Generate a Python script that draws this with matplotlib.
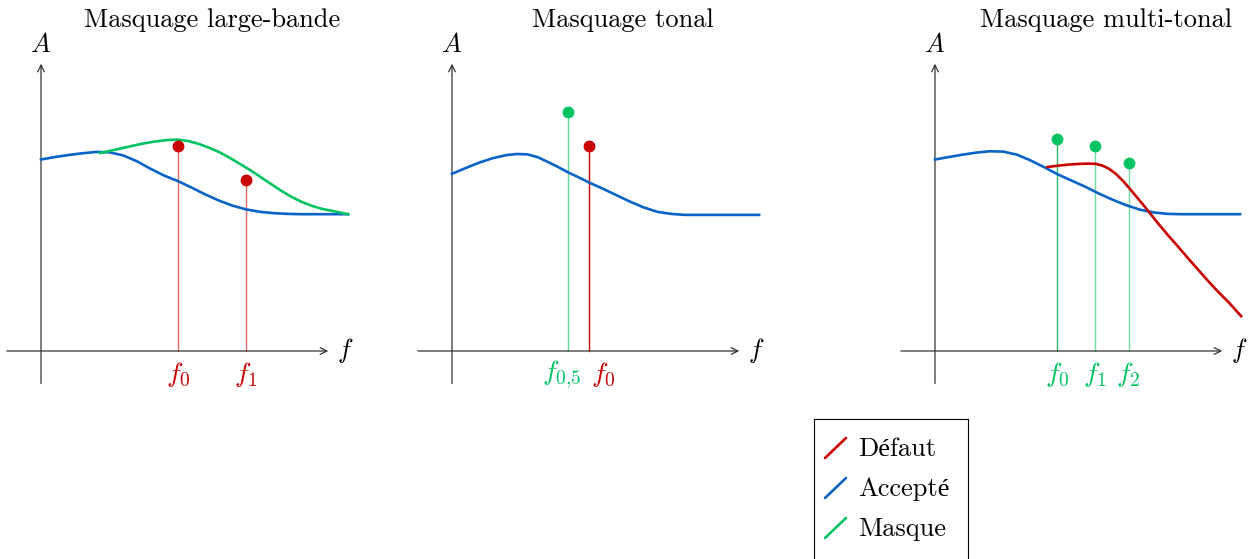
import matplotlib
matplotlib.use('Agg')
import matplotlib.pyplot as plt

plt.rcParams['mathtext.fontset'] = 'cm'
plt.rcParams['font.family'] = ['cmr10', 'Liberation Serif']
plt.rcParams['axes.formatter.use_mathtext'] = True

RED = '#c80000'
BLUE = '#0a64c8'
GREEN = '#00c462'

# --- data (units of the drawing) ---
# panel 1 : large-bande
p1_blue_x = [0.0, 0.4, 0.8, 1.2, 1.6, 2.0, 2.4, 2.8, 3.2, 3.6, 4.0, 4.4, 4.8,
             5.2, 5.6, 6.0, 6.4, 6.8, 7.2, 7.6, 8.98]
p1_blue_y = [5.60, 5.67, 5.73, 5.78, 5.82, 5.81, 5.72, 5.55, 5.33, 5.13, 4.97,
             4.78, 4.58, 4.40, 4.25, 4.14, 4.07, 4.03, 4.01, 4.0, 4.0]
p1_green_x = [1.73, 2.1, 2.5, 2.9, 3.3, 3.7, 4.0, 4.3, 4.6, 4.9, 5.2, 5.5, 5.8,
              6.1, 6.4, 6.7, 7.0, 7.3, 7.6, 7.9, 8.2, 8.5, 8.98]
p1_green_y = [5.79, 5.87, 5.96, 6.05, 6.12, 6.17, 6.18, 6.14, 6.06, 5.95, 5.82,
              5.66, 5.48, 5.30, 5.10, 4.90, 4.70, 4.52, 4.37, 4.25, 4.16, 4.10, 4.0]
p1_tone_x = [4.0, 6.0]
p1_tone_y = [6.0, 5.0]
p1_labels = [r'$f_0$', r'$f_1$']

# panel 2 : tonal
p2_blue_x = [0.0, 0.4, 0.8, 1.2, 1.6, 1.9, 2.2, 2.5, 2.8, 3.1, 3.4, 3.7, 4.0,
             4.4, 4.8, 5.2, 5.6, 6.0, 6.4, 6.8, 8.98]
p2_blue_y = [5.18, 5.35, 5.51, 5.64, 5.73, 5.76, 5.75, 5.67, 5.53, 5.38, 5.22,
             5.08, 4.93, 4.75, 4.56, 4.37, 4.20, 4.07, 4.01, 3.98, 3.98]
p2_mask_x, p2_mask_y = 3.4, 7.0
p2_tone_x, p2_tone_y = 4.0, 6.0
p2_labels = [r'$f_{0{,}5}$', r'$f_0$']

# panel 3 : multi-tonal
p3_blue_x = [0.0, 0.4, 0.8, 1.2, 1.6, 2.0, 2.4, 2.8, 3.2, 3.6, 4.0, 4.4, 4.8,
             5.2, 5.6, 6.0, 6.4, 6.8, 7.2, 8.92]
p3_blue_y = [5.60, 5.67, 5.74, 5.80, 5.84, 5.83, 5.74, 5.57, 5.37, 5.16, 4.98,
             4.80, 4.60, 4.42, 4.26, 4.13, 4.05, 4.01, 4.0, 4.0]
p3_red_x = [3.29, 3.6, 3.9, 4.2, 4.5, 4.7, 4.9, 5.1, 5.3, 5.5, 5.7, 5.9, 6.1,
            6.3, 6.5, 6.8, 7.1, 7.4, 7.7, 8.0, 8.3, 8.6, 8.95]
p3_red_y = [5.38, 5.42, 5.45, 5.47, 5.48, 5.47, 5.42, 5.32, 5.17, 4.97, 4.74,
            4.50, 4.26, 4.01, 3.76, 3.40, 3.06, 2.71, 2.37, 2.03, 1.71, 1.41, 1.02]
p3_tone_x = [3.58, 4.67, 5.66]
p3_tone_y = [6.2, 6.0, 5.5]
p3_labels = [r'$f_0$', r'$f_1$', r'$f_2$']

titles = ['Masquage large-bande', 'Masquage tonal', 'Masquage multi-tonal']
legend_labels = ['Défaut', 'Accepté', 'Masque']
legend_colors = [RED, BLUE, GREEN]

W, H = 1252, 559
U = 34.2  # pixels per unit
fig = plt.figure(figsize=(W / 100, H / 100), dpi=100)


def make_panel(ox, oy, title):
    x0, x1 = -ox / U, (W - ox) / U
    y0, y1 = -(H - oy) / U, oy / U
    ax = fig.add_axes([0, 0, 1, 1])
    ax.set_xlim(x0, x1)
    ax.set_ylim(y0, y1)
    ax.axis('off')
    ax.patch.set_alpha(0)
    arr = dict(arrowstyle='->', color='#333333', lw=0.9, shrinkA=0, shrinkB=0,
               mutation_scale=12)
    ax.annotate('', xy=(8.4, 0), xytext=(-1, 0), arrowprops=arr)
    ax.annotate('', xy=(0, 8.4), xytext=(0, -0.95), arrowprops=arr)
    ax.text(0, 8.95, r'$A$', fontsize=19, ha='center', va='center')
    ax.text(8.9, 0.02, r'$f$', fontsize=19, ha='center', va='center')
    ax.text(5.0, 9.66, title, fontsize=19, ha='center', va='center')
    return ax


def stem(ax, x, y, color, stem_color, lw=1.0):
    ax.plot([x, x], [0, y], color=stem_color, lw=lw, zorder=2)
    ax.plot([x], [y], 'o', color=color, ms=7.5, zorder=4)


# panel 1
ax1 = make_panel(41, 351, titles[0])
ax1.plot(p1_blue_x, p1_blue_y, color=BLUE, lw=1.9, zorder=3)
ax1.plot(p1_green_x, p1_green_y, color=GREEN, lw=1.9, zorder=3)
for x, y, lab in zip(p1_tone_x, p1_tone_y, p1_labels):
    stem(ax1, x, y, RED, '#e06a6a')
    ax1.text(x, -0.7, lab, color=RED, fontsize=20, ha='center', va='center')

# panel 2
ax2 = make_panel(452, 351, titles[1])
ax2.plot(p2_blue_x, p2_blue_y, color=BLUE, lw=1.9, zorder=3)
stem(ax2, p2_mask_x, p2_mask_y, GREEN, '#5fd998')
stem(ax2, p2_tone_x, p2_tone_y, RED, RED)
ax2.text(3.22, -0.7, p2_labels[0], color=GREEN, fontsize=20, ha='center', va='center')
ax2.text(4.42, -0.7, p2_labels[1], color=RED, fontsize=20, ha='center', va='center')

# panel 3
ax3 = make_panel(935, 351, titles[2])
ax3.plot(p3_blue_x, p3_blue_y, color=BLUE, lw=1.9, zorder=3)
ax3.plot(p3_red_x, p3_red_y, color=RED, lw=1.9, zorder=3)
stem_cols = ['#2fb870', '#6fdda2', '#6fdda2']
for x, y, lab, sc in zip(p3_tone_x, p3_tone_y, p3_labels, stem_cols):
    stem(ax3, x, y, GREEN, sc)
    ax3.text(x, -0.7, lab, color=GREEN, fontsize=20, ha='center', va='center')

# legend box, drawn by hand (pixel units inside the box)
lax = fig.add_axes([814 / W, -0.02, 154 / W, (559 - 419) / H + 0.02])
lax.set_xlim(0, 154)
lax.set_ylim(140 + 0.02 * H, 0)
lax.set_xticks([])
lax.set_yticks([])
for sp in lax.spines.values():
    sp.set_linewidth(0.8)
    sp.set_color('black')
for i, (lab, col) in enumerate(zip(legend_labels, legend_colors)):
    yc = 30 + 40 * i
    lax.plot([11, 32], [yc + 9, yc - 11], color=col, lw=1.9,
             solid_capstyle='round')
    lax.text(44, yc, lab, fontsize=19, ha='left', va='center')

fig.savefig('out.png', dpi=100)
